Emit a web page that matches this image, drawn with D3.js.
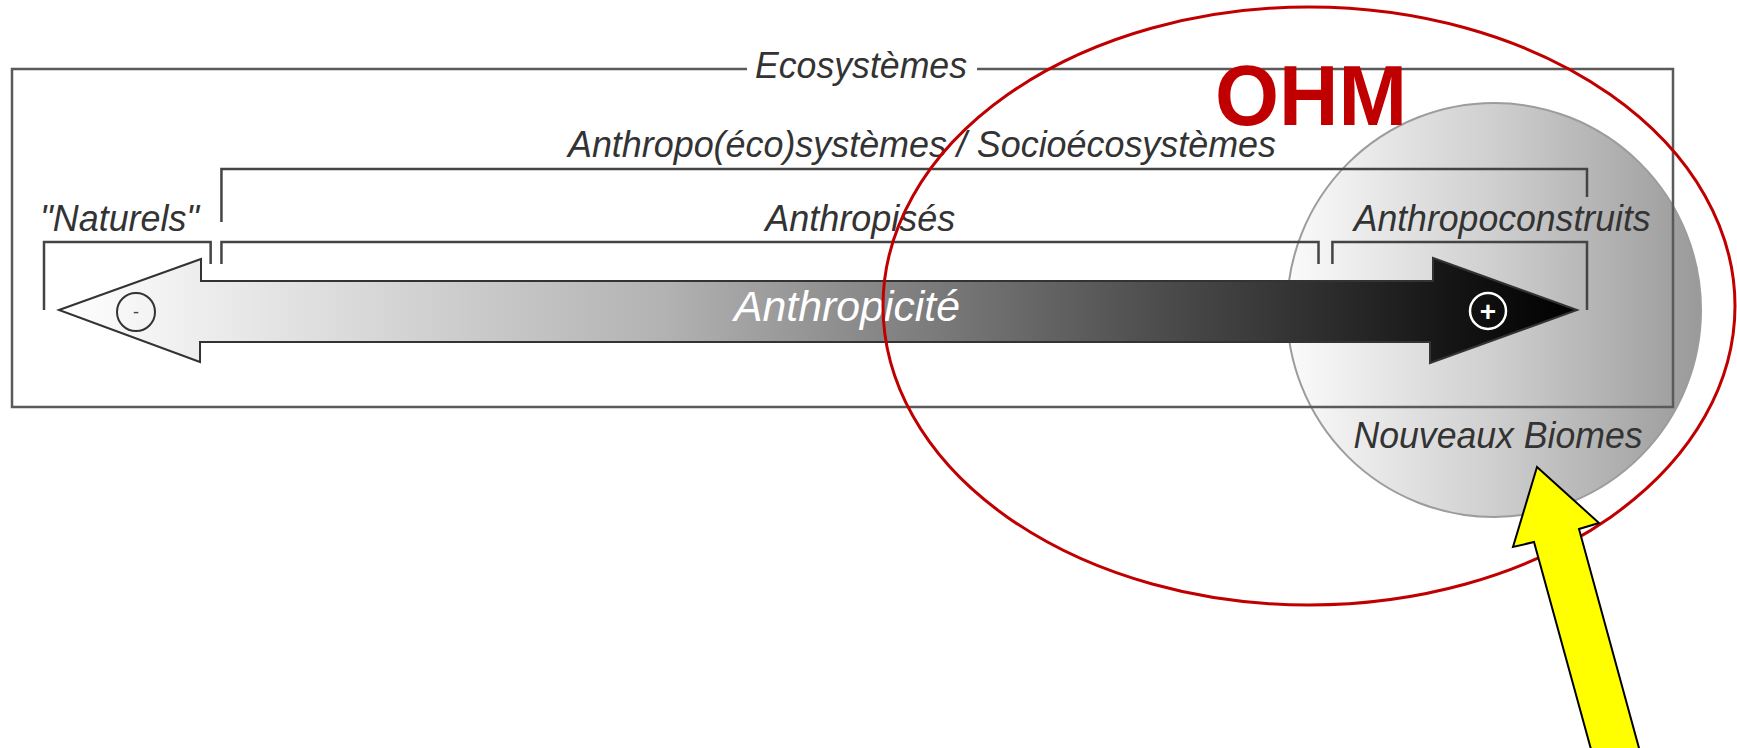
<!DOCTYPE html>
<html>
<head>
<meta charset="utf-8">
<script src="https://cdn.jsdelivr.net/npm/d3@7"></script>
<style>
  body { margin: 0; background: #fff; }
  text { font-family: "Liberation Sans", Arial, sans-serif; }
</style>
</head>
<body>
<script>
// anthropicity axis runs 0 (natural) .. 100 (fully built)
const outerLabel = 'Ecosystèmes';
const groupLabels = ['Anthropo(éco)systèmes / Socioécosystèmes'];
const groupStart = [11.5];
const groupEnd = [100];
const groupLabelAt = [56.9];

const categories = ['"Naturels"', 'Anthropisés', 'Anthropoconstruits'];
const catStart = [0, 11.5, 83.5];
const catEnd = [10.8, 82.6, 100];
const catLabelAt = [4.9, 52.9, 94.5];

const axisLabel = 'Anthropicité';
const axisEnds = ['-', '+'];
const highlightLabels = ['OHM', 'Nouveaux Biomes'];

const W = 1737, H = 748;

const x = d3.scaleLinear().domain([0, 100]).range([44, 1587]);

const svg = d3.select('body').append('svg')
    .attr('width', W)
    .attr('height', H);

const defs = svg.append('defs');

const shaftGrad = defs.append('linearGradient')
    .attr('id', 'shaftGrad')
    .attr('gradientUnits', 'userSpaceOnUse')
    .attr('x1', 59).attr('x2', 1577).attr('y1', 0).attr('y2', 0);
[[0, '#ffffff'], [0.4, '#b2b2b2'], [0.72, '#4e4e4e'], [0.92, '#141414'], [1, '#000']]
    .forEach(s => shaftGrad.append('stop').attr('offset', s[0]).attr('stop-color', s[1]));

const biomeGrad = defs.append('linearGradient')
    .attr('id', 'biomeGrad')
    .attr('gradientUnits', 'userSpaceOnUse')
    .attr('x1', 1287).attr('x2', 1700).attr('y1', 0).attr('y2', 0);
[[0, '#fbfbfb'], [0.5, '#cfcfcf'], [1, '#9a9a9a']]
    .forEach(s => biomeGrad.append('stop').attr('offset', s[0]).attr('stop-color', s[1]));

// "Nouveaux Biomes" disc sits behind the frame
svg.append('circle')
    .attr('cx', 1494).attr('cy', 310).attr('r', 207)
    .attr('fill', 'url(#biomeGrad)')
    .attr('stroke', '#9c9c9c')
    .attr('stroke-width', 2);

// outer frame with a gap for the title
const frame = { left: 12, right: 1673, top: 69, bottom: 407 };
const gap = [747, 977];
svg.append('path')
    .attr('d', `M${gap[0]},${frame.top}H${frame.left}V${frame.bottom}H${frame.right}V${frame.top}H${gap[1]}`)
    .attr('fill', 'none')
    .attr('stroke', '#5a5a5a')
    .attr('stroke-width', 2.5);

const labelStyle = sel => sel
    .attr('font-style', 'italic')
    .attr('font-size', 36)
    .attr('fill', '#333')
    .attr('lengthAdjust', 'spacingAndGlyphs');

svg.append('text')
    .attr('x', 861).attr('y', 78)
    .attr('text-anchor', 'middle')
    .attr('textLength', 212)
    .call(labelStyle)
    .text(outerLabel);

// brackets
const bracket = (x0, x1, y, d0, d1) =>
    `M${x0},${d0}V${y}H${x1}V${d1}`;

const groupY = 169;
svg.selectAll('.group')
    .data(groupLabels)
    .join('path')
    .attr('class', 'group')
    .attr('d', (d, i) => bracket(x(groupStart[i]), x(groupEnd[i]), groupY, 222, 197))
    .attr('fill', 'none')
    .attr('stroke', '#444')
    .attr('stroke-width', 2.5);

svg.selectAll('.groupLabel')
    .data(groupLabels)
    .join('text')
    .attr('class', 'groupLabel')
    .attr('x', (d, i) => x(groupLabelAt[i]))
    .attr('y', 157)
    .attr('text-anchor', 'middle')
    .attr('textLength', 708)
    .call(labelStyle)
    .text(d => d);

const catY = 242;
const catWidths = [159, 190, 297];
svg.selectAll('.cat')
    .data(categories)
    .join('path')
    .attr('class', 'cat')
    .attr('d', (d, i) => bracket(
        x(catStart[i]), x(catEnd[i]), catY,
        i === 0 ? 310 : 264,
        i === categories.length - 1 ? 310 : 264))
    .attr('fill', 'none')
    .attr('stroke', '#444')
    .attr('stroke-width', 2.5);

svg.selectAll('.catLabel')
    .data(categories)
    .join('text')
    .attr('class', 'catLabel')
    .attr('x', (d, i) => x(catLabelAt[i]))
    .attr('y', 231)
    .attr('text-anchor', 'middle')
    .attr('textLength', (d, i) => catWidths[i])
    .call(labelStyle)
    .text(d => d);

// double headed anthropicity arrow
const arrowPts = [
    [59, 310], [201, 259], [201, 281], [1433, 281], [1433, 258],
    [1577, 310], [1430, 363], [1430, 342], [200, 342], [200, 362]
];
svg.append('path')
    .attr('d', d3.line()(arrowPts) + 'Z')
    .attr('fill', 'url(#shaftGrad)')
    .attr('stroke', '#333')
    .attr('stroke-width', 2)
    .attr('stroke-linejoin', 'miter');

svg.append('circle')
    .attr('cx', 136).attr('cy', 312).attr('r', 19)
    .attr('fill', 'none')
    .attr('stroke', '#333')
    .attr('stroke-width', 2);
svg.append('text')
    .attr('x', 136).attr('y', 318)
    .attr('text-anchor', 'middle')
    .attr('font-size', 18)
    .attr('fill', '#444')
    .text(axisEnds[0]);

svg.append('circle')
    .attr('cx', 1488).attr('cy', 311).attr('r', 18)
    .attr('fill', 'none')
    .attr('stroke', '#fff')
    .attr('stroke-width', 2.5);
svg.append('text')
    .attr('x', 1488).attr('y', 321)
    .attr('text-anchor', 'middle')
    .attr('font-size', 28)
    .attr('font-weight', 'bold')
    .attr('fill', '#fff')
    .text(axisEnds[1]);

svg.append('text')
    .attr('x', 847).attr('y', 321)
    .attr('text-anchor', 'middle')
    .attr('font-style', 'italic')
    .attr('font-size', 42)
    .attr('fill', '#fff')
    .attr('textLength', 226)
    .attr('lengthAdjust', 'spacingAndGlyphs')
    .text(axisLabel);

svg.append('text')
    .attr('x', 1498).attr('y', 448)
    .attr('text-anchor', 'middle')
    .attr('textLength', 289)
    .call(labelStyle)
    .text(highlightLabels[1]);

// OHM highlight
svg.append('ellipse')
    .attr('cx', 1309).attr('cy', 306)
    .attr('rx', 426).attr('ry', 299)
    .attr('fill', 'none')
    .attr('stroke', '#c00000')
    .attr('stroke-width', 3);

svg.append('text')
    .attr('x', 1311).attr('y', 125)
    .attr('text-anchor', 'middle')
    .attr('font-size', 86)
    .attr('font-weight', 'bold')
    .attr('fill', '#c00000')
    .attr('textLength', 192)
    .attr('lengthAdjust', 'spacingAndGlyphs')
    .text(highlightLabels[0]);

// yellow pointer
const pointer = [
    [1537, 467], [1599, 523], [1579, 529], [1645, 770],
    [1600, 782], [1534, 542], [1513, 547]
];
svg.append('path')
    .attr('d', d3.line()(pointer) + 'Z')
    .attr('fill', '#ffff00')
    .attr('stroke', '#000')
    .attr('stroke-width', 2);
</script>
</body>
</html>
